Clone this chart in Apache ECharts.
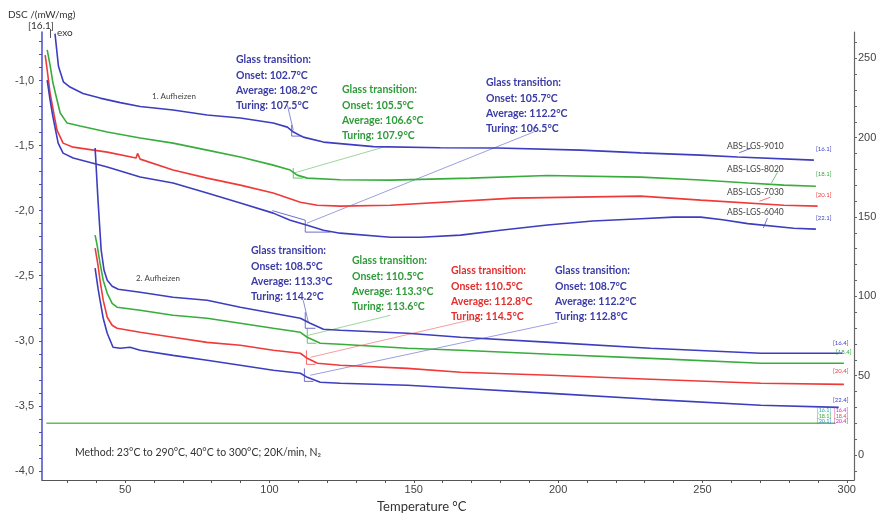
<!DOCTYPE html>
<html>
<head>
<meta charset="utf-8">
<script src="https://cdn.jsdelivr.net/npm/echarts@6/dist/echarts.min.js"></script>
<style>html,body{margin:0;padding:0;background:#fff;}#c{width:882px;height:517px;}</style>
</head>
<body>
<div id="c"></div>
<script>
// ---------- DATA ----------
const xTickLabels = [50, 100, 150, 200, 250, 300];
const yLeftTickLabels = [-4.0, -3.5, -3.0, -2.5, -2.0, -1.5, -1.0];
const yRightTickLabels = [0, 50, 100, 150, 200, 250];
const sampleNames = ['ABS-LGS-9010', 'ABS-LGS-8020', 'ABS-LGS-7030', 'ABS-LGS-6040'];

// 1. Aufheizen (first heating), [T °C, DSC mW/mg]
const s9010_h1 = [[25.7,-0.64],[26.9,-0.89],[28.6,-1.01],[30.9,-1.05],[35.4,-1.10],[41.3,-1.135],[48.3,-1.17],[55.2,-1.20],[66.6,-1.227],[78.4,-1.265],[89.9,-1.288],[101.3,-1.327],[106.2,-1.358],[108.3,-1.396],[111.7,-1.435],[118.7,-1.473],[136,-1.508],[159.2,-1.517],[179,-1.519],[207.8,-1.535],[228.6,-1.556],[249.4,-1.573],[262.2,-1.588],[288.6,-1.612]];
const s8020_h1 = [[23.0,-0.765],[24.0,-0.881],[25.0,-1.019],[26.4,-1.15],[27.5,-1.25],[29.9,-1.327],[34.4,-1.35],[43.8,-1.396],[55.2,-1.442],[66.6,-1.481],[78.4,-1.535],[89.9,-1.588],[101.3,-1.65],[107.2,-1.688],[109.6,-1.727],[113.1,-1.75],[124.5,-1.763],[141.9,-1.765],[169.6,-1.75],[196.3,-1.73],[228.6,-1.742],[249.4,-1.765],[265.7,-1.788],[278.2,-1.804],[289.3,-1.812]];
const s7030_h1 = [[22.3,-0.804],[23.0,-0.919],[24.0,-1.096],[25.4,-1.265],[26.4,-1.381],[28.5,-1.481],[32.0,-1.512],[43.8,-1.55],[53.8,-1.596],[54.3,-1.56],[55.2,-1.604],[66.6,-1.688],[78.4,-1.75],[89.9,-1.804],[101.3,-1.865],[110.7,-1.935],[116.6,-1.958],[124.5,-1.965],[141.9,-1.958],[184.5,-1.904],[228.6,-1.888],[249.4,-1.919],[278.2,-1.958],[289.9,-1.965]];
const s6040_h1 = [[23.0,-0.996],[24.0,-1.15],[25.0,-1.281],[26.8,-1.481],[28.5,-1.558],[32.0,-1.596],[43.8,-1.665],[55.2,-1.742],[66.6,-1.788],[78.4,-1.865],[89.9,-1.942],[101.3,-2.019],[107.2,-2.073],[113.1,-2.112],[118.7,-2.15],[124.5,-2.173],[141.9,-2.204],[152.3,-2.204],[166.2,-2.188],[180,-2.15],[196.3,-2.11],[212,-2.08],[228.6,-2.062],[240,-2.05],[249.4,-2.05],[257,-2.07],[265.7,-2.1],[281.6,-2.135],[289.3,-2.142]];

// 2. Aufheizen (second heating)
const s9010_h2 = [[39.6,-1.519],[40.6,-1.919],[41.7,-2.304],[42.7,-2.458],[43.8,-2.535],[45.5,-2.581],[47.6,-2.604],[55.2,-2.627],[66.6,-2.665],[78.4,-2.688],[89.9,-2.742],[101.3,-2.788],[110.7,-2.827],[114.1,-2.865],[118.7,-2.912],[124.5,-2.919],[147.8,-2.942],[166.2,-2.973],[197.4,-3.012],[232.0,-3.058],[270.2,-3.096],[298.5,-3.096]];
const s8020_h2 = [[39.6,-2.188],[40.3,-2.265],[41.3,-2.404],[42.4,-2.535],[43.8,-2.635],[45.5,-2.712],[47.2,-2.742],[55.2,-2.765],[66.6,-2.804],[78.4,-2.827],[89.9,-2.865],[101.3,-2.904],[110.7,-2.935],[113.1,-2.973],[117.6,-3.019],[124.5,-3.027],[147.8,-3.058],[166.2,-3.073],[197.4,-3.104],[232.0,-3.135],[270.2,-3.173],[299.0,-3.173]];
const s7030_h2 = [[39.6,-2.288],[40.6,-2.419],[41.3,-2.535],[42.4,-2.688],[43.8,-2.819],[45.5,-2.881],[47.2,-2.904],[55.2,-2.935],[66.6,-2.973],[78.4,-3.012],[89.9,-3.035],[101.3,-3.073],[110.7,-3.096],[113.1,-3.135],[116.6,-3.173],[124.5,-3.188],[147.8,-3.212],[166.2,-3.242],[197.4,-3.265],[232.0,-3.296],[270.2,-3.327],[299.0,-3.335]];
const s6040_h2 = [[39.6,-2.442],[40.6,-2.596],[41.3,-2.688],[42.4,-2.827],[43.8,-2.942],[45.8,-3.05],[48.3,-3.058],[51.7,-3.05],[55.2,-3.073],[66.6,-3.112],[78.4,-3.15],[89.9,-3.188],[101.3,-3.227],[110.7,-3.25],[113.1,-3.281],[117.6,-3.319],[124.5,-3.327],[147.8,-3.342],[166.2,-3.365],[197.4,-3.404],[232.0,-3.45],[270.2,-3.496],[297.2,-3.512]];

// Temperature (right axis) baseline
const tempLine = [[22.7, 20], [296, 20]];

// Glass transition values
const gt1Onset = [102.7, 105.5, 105.7];
const gt1Avg   = [108.2, 106.6, 112.2];
const gt1Tur   = [107.5, 107.9, 106.5];
const gt2Onset = [108.5, 110.5, 110.5, 108.7];
const gt2Avg   = [113.3, 113.3, 112.8, 112.2];
const gt2Tur   = [114.2, 113.6, 114.5, 112.8];

// Evaluation construction lines (data units)
const evalBlueA  = [[107.7,-1.342],[107.7,-1.427],[111.4,-1.427]];
const evalGreenA = [[108.25,-1.673],[108.25,-1.75],[111.7,-1.75]];
const evalBlueB  = [[101.0,-2.0],[112.4,-2.073],[112.4,-2.165],[121.1,-2.165]];
const evalBlueC  = [[112.4,-2.781],[112.4,-2.904],[115.9,-2.904]];
const evalGreenC = [[113.1,-2.904],[113.1,-3.019],[116.2,-3.019]];
const evalRedC   = [[112.8,-3.073],[112.8,-3.181],[115.9,-3.181]];
const evalBlueD  = [[112.1,-3.212],[112.1,-3.312],[115.2,-3.312]];

// Leader lines (data units)
const leadBlueA  = [[106.2,-1.188],[108.25,-1.381]];
const leadGreenA = [[108.25,-1.712],[139.5,-1.512]];
const leadBlueB  = [[113.0,-2.096],[191.5,-1.396]];
const leadBlueC  = [[111.7,-2.688],[113.45,-2.858]];
const leadGreenC = [[113.45,-2.958],[141.9,-2.804]];
const leadRedC   = [[114.15,-3.127],[172.0,-2.827]];
const leadBlueD  = [[114.15,-3.265],[199.8,-2.858]];
const leadName9010 = [[262.7,-1.555],[266.9,-1.52]];
const leadName8020 = [[273.9,-1.788],[276.0,-1.705]];
const leadName7030 = [[269.7,-1.928],[273.5,-1.897]];
const leadName6040 = [[271.1,-2.134],[272.5,-2.057]];

// ---------- STYLE / LAYOUT ----------
const BLUE = '#3d3dbf', GREEN = '#38ad3c', RED = '#f03a3a';
const TBLUE = '#3b3ba6', TGREEN = '#2f9b3a', TRED = '#e42e2e';
const FONT = 'Lato, "Open Sans", sans-serif';

function curve(data, color, w) {
  return { type: 'line', data: data, showSymbol: false, symbol: 'none', smooth: false,
    lineStyle: { color: color, width: w || 1.6 }, silent: true, animation: false, z: 3 };
}
function thin(data, color, op) {
  return { type: 'line', data: data, showSymbol: false, symbol: 'none',
    lineStyle: { color: color, width: 1, opacity: op == null ? 0.75 : op }, silent: true, animation: false, z: 2 };
}

const fmt = v => v.toFixed(1) + '°C';
const groups = [
  { x: 236, y: 60,  c: TBLUE,  v: [gt1Onset[0], gt1Avg[0], gt1Tur[0]] },
  { x: 342, y: 90,  c: TGREEN, v: [gt1Onset[1], gt1Avg[1], gt1Tur[1]] },
  { x: 486, y: 83,  c: TBLUE,  v: [gt1Onset[2], gt1Avg[2], gt1Tur[2]] },
  { x: 251, y: 251, c: TBLUE,  v: [gt2Onset[0], gt2Avg[0], gt2Tur[0]] },
  { x: 352, y: 261, c: TGREEN, v: [gt2Onset[1], gt2Avg[1], gt2Tur[1]] },
  { x: 451, y: 271, c: TRED,   v: [gt2Onset[2], gt2Avg[2], gt2Tur[2]] },
  { x: 555, y: 271, c: TBLUE,  v: [gt2Onset[3], gt2Avg[3], gt2Tur[3]] }
];
const graphics = [];
function txt(s, x, y, color, size, weight) {
  graphics.push({ type: 'text', silent: true, z: 10, style: {
    text: s, x: x, y: y, fill: color, font: (weight || 'normal') + ' ' + (size || 11) + 'px ' + FONT, verticalAlign: 'middle' } });
}
groups.forEach(g => {
  const lines = ['Glass transition:', 'Onset: ' + fmt(g.v[0]), 'Average: ' + fmt(g.v[1]), 'Turing: ' + fmt(g.v[2])];
  lines.forEach((s, i) => txt(s, g.x, g.y + i * 15.3, g.c, 10.5, 'bold'));
});
txt('1. Aufheizen', 152, 96, '#444', 8);
txt('2. Aufheizen', 136, 278, '#444', 8);
const nameY = [146, 169, 192, 212];
sampleNames.forEach((n, i) => txt(n, 727, nameY[i], '#444', 8.5));
txt('Method: 23°C to 290°C, 40°C to 300°C; 20K/min, N₂', 75, 453, '#333', 10.5);
txt('Temperature °C', 377, 507, '#333', 13);
txt('DSC /(mW/mg)', 8, 15, '#333', 10);
txt('[16.1]', 28, 26, '#333', 10);
txt('exo', 57, 33, '#333', 10);
graphics.push({ type: 'line', silent: true, shape: { x1: 50.5, y1: 29, x2: 50.5, y2: 38 }, style: { stroke: '#555', lineWidth: 1 } });
// small segment tags at ends
const tags = [['[16.1]',816,149,BLUE],['[18.1]',816,174,GREEN],['[20.1]',816,195,RED],['[22.1]',816,218,BLUE],
              ['[16.4]',833,343,BLUE],['[18.4]',836,352,GREEN],['[20.4]',833,371,RED],['[22.4]',833,400,BLUE]];
tags.forEach(t => txt(t[0], t[1], t[2], t[3], 6));
const boxTags = [['[16.1]',817,410,'#3aa'],['[18.1]',817,416,'#3a3'],['[20.1]',817,421,'#38c'],
                 ['[16.4]',834,410,'#c3c'],['[18.4]',834,416,'#c55'],['[20.4]',834,421,'#a3a']];
boxTags.forEach(t => txt(t[0], t[1], t[2], t[3], 5.5));

const option = {
  animation: false,
  backgroundColor: '#fff',
  grid: { left: 42, right: 28, top: 32, bottom: 37, containLabel: false },
  xAxis: {
    type: 'value', min: 21.2, max: 302.5,
    axisLine: { onZero: false, lineStyle: { color: '#555', width: 1.2 } },
    axisTick: { show: true, customValues: Array.from({length: 28}, (_, i) => 30 + i * 10), length: 3, lineStyle: { color: '#555' } },
    axisLabel: { customValues: xTickLabels, color: '#444', fontSize: 11, margin: 4, fontFamily: 'Liberation Sans, Arial, sans-serif' },
    splitLine: { show: false }
  },
  yAxis: [
    {
      type: 'value', min: -4.07, max: -0.627, position: 'left',
      axisLine: { show: true, onZero: false, lineStyle: { color: '#4b4bc8', width: 1.5 } },
      axisTick: { show: true, inside: false, customValues: Array.from({length: 34}, (_, i) => +(-4.0 + i * 0.1).toFixed(1)), length: 3, lineStyle: { color: '#4b4bc8' } },
      axisLabel: { customValues: yLeftTickLabels, color: '#444', fontSize: 11, margin: 8, fontFamily: 'Liberation Sans, Arial, sans-serif',
        formatter: v => v.toFixed(1).replace('.', ',') },
      splitLine: { show: false }
    },
    {
      type: 'value', min: -15.8, max: 266.6, position: 'right',
      axisLine: { show: true, onZero: false, lineStyle: { color: '#666', width: 1.2 } },
      axisTick: { show: true, customValues: Array.from({length: 28}, (_, i) => -10 + i * 10), length: 3, lineStyle: { color: '#666' } },
      axisLabel: { customValues: yRightTickLabels, color: '#444', fontSize: 11, margin: 4, fontFamily: 'Liberation Sans, Arial, sans-serif' },
      splitLine: { show: false }
    }
  ],
  series: [
    Object.assign(curve(tempLine, '#5cc05c', 1.5), { yAxisIndex: 1 }),
    curve(s9010_h1, BLUE), curve(s8020_h1, GREEN), curve(s7030_h1, RED), curve(s6040_h1, BLUE),
    curve(s9010_h2, BLUE), curve(s8020_h2, GREEN), curve(s7030_h2, RED), curve(s6040_h2, BLUE),
    thin(evalBlueA, BLUE), thin(evalGreenA, GREEN), thin(evalBlueB, BLUE),
    thin(evalBlueC, BLUE), thin(evalGreenC, GREEN), thin(evalRedC, RED), thin(evalBlueD, BLUE),
    thin(leadBlueA, BLUE, 0.6), thin(leadGreenA, GREEN, 0.5), thin(leadBlueB, BLUE, 0.5),
    thin(leadBlueC, BLUE, 0.6), thin(leadGreenC, GREEN, 0.5), thin(leadRedC, RED, 0.5), thin(leadBlueD, BLUE, 0.5),
    thin(leadName9010, BLUE, 0.7), thin(leadName8020, GREEN, 0.7), thin(leadName7030, RED, 0.7), thin(leadName6040, BLUE, 0.7)
  ],
  graphic: graphics
};
const chart = echarts.init(document.getElementById('c'), null, { renderer: 'canvas' });
chart.setOption(option);
</script>
</body>
</html>
